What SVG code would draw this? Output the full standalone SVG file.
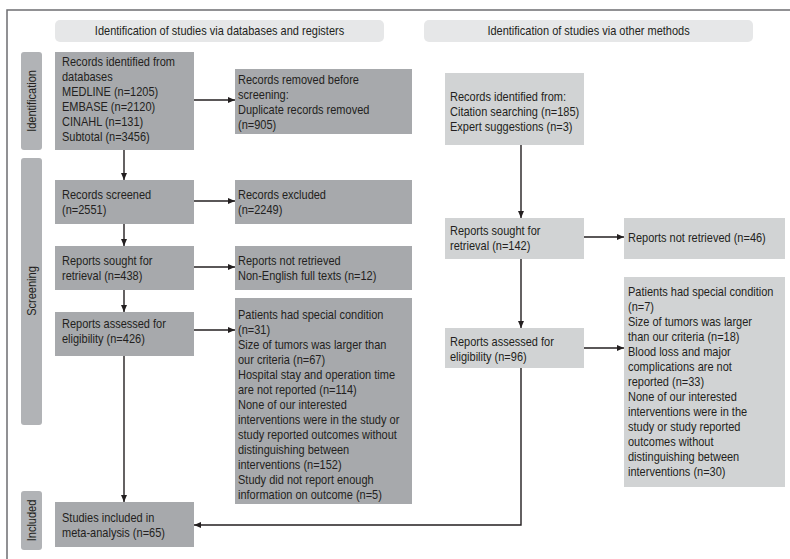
<svg xmlns="http://www.w3.org/2000/svg" width="790" height="559" viewBox="0 0 790 559">
<style>
text{font-family:"Liberation Sans",Arial,sans-serif;font-size:12.5px;fill:#231f20}
.hdr{fill:#e6e7e8}
.side{fill:#b1b3b6}
.dk{fill:#a7a9ac}
.lt{fill:#d1d3d4}
.c{text-anchor:middle}
.ln{fill:none;stroke:#231f20;stroke-width:1.4}
</style>
<defs>
<marker id="ah" markerWidth="8" markerHeight="8" refX="7" refY="4" orient="auto" markerUnits="userSpaceOnUse">
<path d="M0,1 L7,4 L0,7 Z" fill="#231f20"/>
</marker>
</defs>
<rect width="790" height="559" fill="#fff"/>
<path d="M7,559 V10 H790" fill="none" stroke="#6d6e71" stroke-width="1.5"/>

<g id="header-left"><rect class="hdr" x="55" y="20" width="329" height="22" rx="5"/><g transform="translate(219.5,0) scale(0.88,1)"><text class="c" x="0" y="35.5">Identification of studies via databases and registers</text></g></g>
<g id="header-right"><rect class="hdr" x="424" y="20" width="329" height="22" rx="5"/><g transform="translate(588.5,0) scale(0.88,1)"><text class="c" x="0" y="35.5">Identification of studies via other methods</text></g></g>

<g id="side-identification"><rect class="side" x="21" y="52" width="21" height="98" rx="3"/><text class="c" transform="translate(36,101) rotate(-90) scale(0.88,1)">Identification</text></g>
<g id="side-screening"><rect class="side" x="21" y="158" width="21" height="267" rx="3"/><text class="c" transform="translate(36,291) rotate(-90) scale(0.88,1)">Screening</text></g>
<g id="side-included"><rect class="side" x="21" y="491" width="21" height="59" rx="3"/><text class="c" transform="translate(36,520.5) rotate(-90) scale(0.88,1)">Included</text></g>

<g id="records-identified-db"><rect class="dk" x="55" y="52" width="139" height="98"/>
<g transform="translate(62,0) scale(0.88,1)"><text x="0" y="66">Records identified from</text><text x="0" y="81">databases</text><text x="0" y="96">MEDLINE (n=1205)</text><text x="0" y="111">EMBASE (n=2120)</text><text x="0" y="126">CINAHL (n=131)</text><text x="0" y="141">Subtotal (n=3456)</text></g></g>

<g id="records-removed"><rect class="dk" x="235" y="69" width="177" height="65"/>
<g transform="translate(238,0) scale(0.88,1)"><text x="0" y="84">Records removed before</text><text x="0" y="99">screening:</text><text x="0" y="114">Duplicate records removed</text><text x="0" y="129">(n=905)</text></g></g>

<g id="records-screened"><rect class="dk" x="55" y="180" width="139" height="44"/>
<g transform="translate(62,0) scale(0.88,1)"><text x="0" y="199">Records screened</text><text x="0" y="214">(n=2551)</text></g></g>

<g id="records-excluded"><rect class="dk" x="235" y="180" width="177" height="44"/>
<g transform="translate(238,0) scale(0.88,1)"><text x="0" y="199">Records excluded</text><text x="0" y="214">(n=2249)</text></g></g>

<g id="reports-sought-db"><rect class="dk" x="55" y="246" width="139" height="44"/>
<g transform="translate(62,0) scale(0.88,1)"><text x="0" y="265">Reports sought for</text><text x="0" y="280">retrieval (n=438)</text></g></g>

<g id="reports-not-retrieved-db"><rect class="dk" x="235" y="246" width="177" height="44"/>
<g transform="translate(238,0) scale(0.88,1)"><text x="0" y="265">Reports not retrieved</text><text x="0" y="280">Non-English full texts (n=12)</text></g></g>

<g id="reports-assessed-db"><rect class="dk" x="55" y="312" width="139" height="44"/>
<g transform="translate(62,0) scale(0.88,1)"><text x="0" y="328">Reports assessed for</text><text x="0" y="343">eligibility (n=426)</text></g></g>

<g id="reports-excluded-db"><rect class="dk" x="235" y="298" width="177" height="206"/>
<g transform="translate(238,0) scale(0.88,1)"><text x="0" y="319">Patients had special condition</text><text x="0" y="334">(n=31)</text><text x="0" y="349">Size of tumors was larger than</text><text x="0" y="364">our criteria (n=67)</text><text x="0" y="379">Hospital stay and operation time</text><text x="0" y="394">are not reported (n=114)</text><text x="0" y="409">None of our interested</text><text x="0" y="424">interventions were in the study or</text><text x="0" y="439">study reported outcomes without</text><text x="0" y="454">distinguishing between</text><text x="0" y="469">interventions (n=152)</text><text x="0" y="484">Study did not report enough</text><text x="0" y="499">information on outcome (n=5)</text></g></g>

<g id="studies-included"><rect class="dk" x="55" y="502" width="139" height="45"/>
<g transform="translate(62,0) scale(0.88,1)"><text x="0" y="522">Studies included in</text><text x="0" y="537">meta-analysis (n=65)</text></g></g>

<g id="records-identified-other"><rect class="lt" x="445" y="73" width="139" height="72"/>
<g transform="translate(450,0) scale(0.88,1)"><text x="0" y="101">Records identified from:</text><text x="0" y="116">Citation searching (n=185)</text><text x="0" y="131">Expert suggestions (n=3)</text></g></g>

<g id="reports-sought-other"><rect class="lt" x="445" y="218" width="139" height="41"/>
<g transform="translate(450,0) scale(0.88,1)"><text x="0" y="235">Reports sought for</text><text x="0" y="250">retrieval (n=142)</text></g></g>

<g id="reports-not-retrieved-other"><rect class="lt" x="624" y="218" width="161" height="41"/>
<g transform="translate(628,0) scale(0.88,1)"><text x="0" y="242.5">Reports not retrieved (n=46)</text></g></g>

<g id="reports-assessed-other"><rect class="lt" x="445" y="328" width="139" height="40"/>
<g transform="translate(450,0) scale(0.88,1)"><text x="0" y="346">Reports assessed for</text><text x="0" y="361">eligibility (n=96)</text></g></g>

<g id="reports-excluded-other"><rect class="lt" x="624" y="277" width="161" height="210"/>
<g transform="translate(628,0) scale(0.88,1)"><text x="0" y="296">Patients had special condition</text><text x="0" y="311">(n=7)</text><text x="0" y="326">Size of tumors was larger</text><text x="0" y="341">than our criteria (n=18)</text><text x="0" y="356">Blood loss and major</text><text x="0" y="371">complications are not</text><text x="0" y="386">reported (n=33)</text><text x="0" y="401">None of our interested</text><text x="0" y="416">interventions were in the</text><text x="0" y="431">study or study reported</text><text x="0" y="446">outcomes without</text><text x="0" y="461">distinguishing between</text><text x="0" y="476">interventions (n=30)</text></g></g>

<g id="connectors">
<path class="ln" d="M124,150 V180" marker-end="url(#ah)"/>
<path class="ln" d="M124,224 V246" marker-end="url(#ah)"/>
<path class="ln" d="M124,290 V312" marker-end="url(#ah)"/>
<path class="ln" d="M124,356 V502" marker-end="url(#ah)"/>
<path class="ln" d="M194,100 H235" marker-end="url(#ah)"/>
<path class="ln" d="M194,201 H235" marker-end="url(#ah)"/>
<path class="ln" d="M194,267 H235" marker-end="url(#ah)"/>
<path class="ln" d="M194,330 H235" marker-end="url(#ah)"/>
<path class="ln" d="M521,145 V218" marker-end="url(#ah)"/>
<path class="ln" d="M521,259 V328" marker-end="url(#ah)"/>
<path class="ln" d="M584,237 H624" marker-end="url(#ah)"/>
<path class="ln" d="M584,348 H624" marker-end="url(#ah)"/>
<path class="ln" d="M521,368 V525 H194" marker-end="url(#ah)"/>
</g>
</svg>
